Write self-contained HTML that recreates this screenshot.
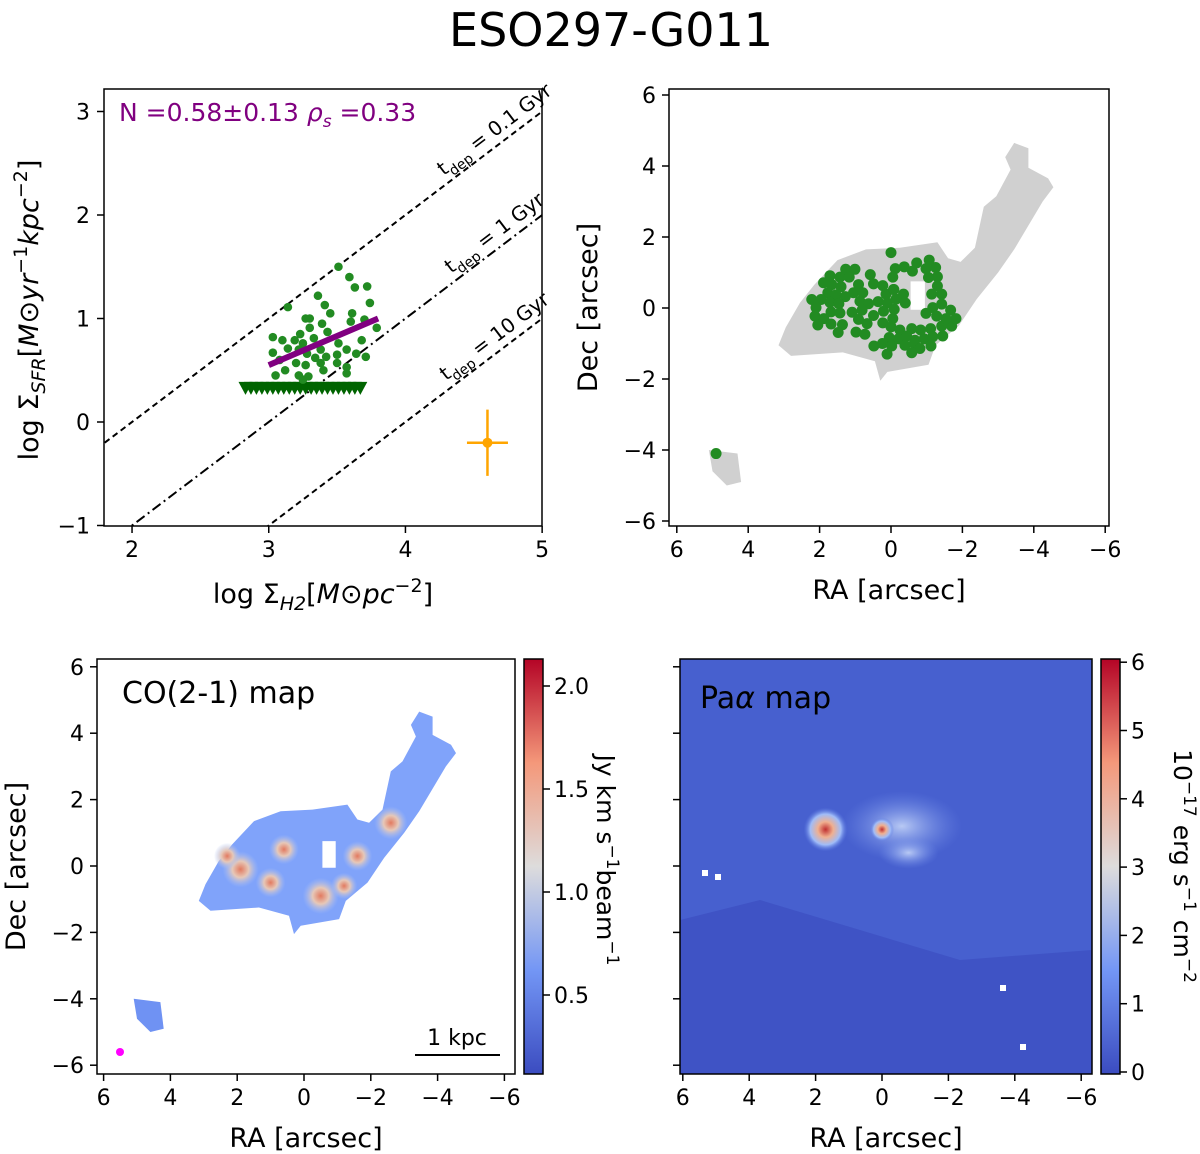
<!DOCTYPE html>
<html><head><meta charset="utf-8">
<style>
body{margin:0;background:#fff;}
svg{display:block;font-family:"DejaVu Sans","Liberation Sans",sans-serif;}
</style></head>
<body>
<svg id="fig" width="1200" height="1154" viewBox="0 0 1200 1154" xmlns="http://www.w3.org/2000/svg">
<defs>
<linearGradient id="cw" x1="0" y1="1" x2="0" y2="0">
<stop offset="0" stop-color="#3b4cc0"/><stop offset="0.25" stop-color="#7396f5"/>
<stop offset="0.5" stop-color="#dddcdc"/><stop offset="0.75" stop-color="#f4987a"/>
<stop offset="1" stop-color="#b40426"/></linearGradient>
<radialGradient id="hot"><stop offset="0" stop-color="#e27a60"/><stop offset="0.45" stop-color="#e6c8b8"/><stop offset="1" stop-color="#a8c0f6" stop-opacity="0"/></radialGradient>
<radialGradient id="pa"><stop offset="0" stop-color="#c03030"/><stop offset="0.35" stop-color="#f0b090"/><stop offset="0.7" stop-color="#a0bcf8"/><stop offset="1" stop-color="#5a78e0" stop-opacity="0"/></radialGradient>
<radialGradient id="pa2"><stop offset="0" stop-color="#b8c9f4"/><stop offset="1" stop-color="#6f8ce8" stop-opacity="0"/></radialGradient>
<clipPath id="c3"><rect x="97" y="659" width="418" height="415"/></clipPath>
<clipPath id="c4"><rect x="680" y="659" width="412" height="415"/></clipPath>
<clipPath id="c1"><rect x="104" y="89" width="438" height="437"/></clipPath>
</defs>
<text x="611" y="46" font-size="46" text-anchor="middle">ESO297-G011</text>
<g id="g1"></g><g id="g2"></g><g id="g3"></g><g id="g4"></g>
</svg>
<script>
const NS="http://www.w3.org/2000/svg";
function mk(p,t,a,txt){const e=document.createElementNS(NS,t);for(const k in a)e.setAttribute(k,a[k]);if(txt!==undefined)e.textContent=txt;p.appendChild(e);return e;}

// ---------- Panel 1 data ----------
const sfrX=[3.51,3.59,3.63,3.72,3.36,3.74,3.14,3.41,3.45,3.27,3.30,3.61,3.60,3.70,3.79,3.03,3.10,3.23,3.19,3.30,3.39,3.43,3.25,3.33,3.38,3.51,3.68,3.03,3.14,3.22,3.28,3.34,3.42,3.50,3.57,3.64,3.71,3.08,3.20,3.27,3.38,3.50,3.57,3.05,3.12,3.22,3.29,3.40,3.57,3.25];
const sfrY=[1.50,1.40,1.30,1.31,1.22,1.15,1.11,1.13,1.05,1.00,1.00,1.05,0.97,0.99,0.91,0.82,0.79,0.85,0.79,0.91,0.95,0.87,0.76,0.81,0.70,0.76,0.79,0.67,0.71,0.70,0.66,0.62,0.63,0.65,0.70,0.66,0.63,0.60,0.57,0.55,0.57,0.57,0.53,0.45,0.50,0.45,0.44,0.50,0.47,0.41];
const limX=[2.83,2.87,2.91,2.95,2.99,3.03,3.07,3.11,3.15,3.19,3.23,3.27,3.31,3.35,3.39,3.43,3.47,3.51,3.55,3.59,3.63,3.67];
const limY=0.33;
const fitX=[3.0,3.8]; const fitY=[0.55,1.0];
const errPt=[4.6,-0.2]; const errXY=[0.15,0.32];
const tdep=[{off:2,label:"0.1",dash:"6,4"},{off:3,label:"1",dash:"10,4,2,4"},{off:4,label:"10",dash:"6,4"}];
const p1xTicks=[2,3,4,5]; const p1yTicks=[-1,0,1,2,3];

const X1=v=>104.7+(v-1.8)*136.7, Y1=v=>422-v*103.5;
(function(){
const g=document.getElementById('g1');
const cl=mk(g,'g',{'clip-path':'url(#c1)'});
tdep.forEach(t=>{
 const l=mk(cl,'line',{x1:X1(1.8),y1:Y1(1.8-t.off),x2:X1(5),y2:Y1(5-t.off),stroke:'#000','stroke-width':2,'stroke-dasharray':t.dash});
 
 const cx=X1(4.68),cy=Y1(4.68-t.off)-10;
 const tx=mk(g,'text',{x:cx,y:cy,'font-size':20,'text-anchor':'middle',transform:`rotate(-37.1 ${cx} ${cy})`});
 tx.innerHTML=`t<tspan font-size="14" dy="6">dep</tspan><tspan dy="-6"> = ${t.label} Gyr</tspan>`;
 
});
limX.forEach(x=>{const px=X1(x),py=Y1(limY);
 const p=mk(cl,'path',{d:`M${px-7},${py-6}L${px+7},${py-6}L${px},${py+7}Z`,fill:'#006400'});
 });
sfrX.forEach((x,i)=>{const c=mk(cl,'circle',{cx:X1(x),cy:Y1(sfrY[i]),r:4.3,fill:'#228b22'});
 });
const f=mk(cl,'line',{x1:X1(fitX[0]),y1:Y1(fitY[0]),x2:X1(fitX[1]),y2:Y1(fitY[1]),stroke:'#800080','stroke-width':6});

const ex=X1(errPt[0]),ey=Y1(errPt[1]);
const eb=mk(g,'path',{d:`M${X1(errPt[0]-errXY[0])},${ey}H${X1(errPt[0]+errXY[0])}M${ex},${Y1(errPt[1]+errXY[1])}V${Y1(errPt[1]-errXY[1])}`,stroke:'#ffa500','stroke-width':2.5});

mk(g,'circle',{cx:ex,cy:ey,r:5,fill:'#ffa500'});
const fr=mk(g,'rect',{x:104,y:89,width:438,height:437,fill:'none',stroke:'#000','stroke-width':1.5});

p1xTicks.forEach(v=>{mk(g,'line',{x1:X1(v),x2:X1(v),y1:526,y2:533,stroke:'#000','stroke-width':1.5});
 const t=mk(g,'text',{x:X1(v),y:557,'font-size':22,'text-anchor':'middle'},String(v));});
p1yTicks.forEach(v=>{mk(g,'line',{x1:97,x2:104,y1:Y1(v),y2:Y1(v),stroke:'#000','stroke-width':1.5});
 const t=mk(g,'text',{x:90,y:Y1(v)+8,'font-size':22,'text-anchor':'end'},String(v).replace('-','−'));});
const n=mk(g,'text',{x:119,y:121,'font-size':25,fill:'#800080'});
n.innerHTML='N =0.58±0.13 <tspan font-style="italic">ρ</tspan><tspan font-size="17" dy="6" font-style="italic">s</tspan><tspan dy="-6"> =0.33</tspan>';

const xl=mk(g,'text',{x:323,y:603,'font-size':27,'text-anchor':'middle'});
xl.innerHTML='log Σ<tspan font-size="19" dy="7" font-style="italic">H2</tspan><tspan dy="-7">[</tspan><tspan font-style="italic">M</tspan>⊙<tspan font-style="italic">pc</tspan><tspan font-size="19" dy="-11">−2</tspan><tspan dy="11">]</tspan>';

const yl=mk(g,'text',{x:0,y:0,'font-size':27,'text-anchor':'middle',transform:'translate(38,310) rotate(-90)'});
yl.innerHTML='log Σ<tspan font-size="19" dy="7" font-style="italic">SFR</tspan><tspan dy="-7">[</tspan><tspan font-style="italic">M</tspan>⊙<tspan font-style="italic">yr</tspan><tspan font-size="19" dy="-11">−1</tspan><tspan dy="11" font-style="italic">kpc</tspan><tspan font-size="19" dy="-11">−2</tspan><tspan dy="11">]</tspan>';

})();

// ---------- Map data (RA, Dec in arcsec) ----------
const galRA=[3.15,2.95,2.55,2.15,1.5,0.7,-0.25,-1.3,-1.6,-1.95,-2.35,-2.6,-2.95,-3.35,-3.2,-3.45,-3.85,-3.85,-4.4,-4.55,-4.25,-3.45,-3.0,-2.4,-1.9,-1.25,-1.05,0.1,0.3,0.45,1.35,2.8];
const galDec=[-1.05,-0.55,0.15,0.65,1.35,1.65,1.7,1.85,1.4,1.3,1.7,2.85,3.15,3.9,4.25,4.65,4.5,3.95,3.65,3.4,3.0,1.65,1.0,0.25,-0.5,-1.05,-1.6,-1.8,-2.05,-1.5,-1.25,-1.35];
const holeRA=[-0.55,-0.95,-0.95,-0.55]; const holeDec=[0.75,0.75,-0.05,-0.05];
const blobRA=[5.1,4.3,4.2,4.6,5.0]; const blobDec=[-4.0,-4.1,-4.9,-5.0,-4.6];
const regRA=[0.0,1.27,1.01,1.71,1.43,1.17,0.58,1.89,1.66,1.40,0.91,0.49,0.23,1.77,1.54,1.28,1.05,0.79,0.14,-0.07,-0.35,2.22,1.96,1.71,1.46,0.87,0.63,0.36,0.10,-0.14,-0.40,2.10,1.68,1.43,1.09,0.81,0.49,0.21,-0.09,2.13,1.88,0.91,0.67,0.23,-0.05,2.05,1.68,1.36,0.98,0.73,1.48,0.00,-0.25,-0.58,-0.83,-1.11,-1.42,-1.70,-1.82,-1.67,-1.42,-1.42,-1.14,-1.30,-1.30,-1.25,-1.05,-0.98,-1.07,-0.72,-0.60,-0.37,-0.12,-0.05,-0.08,0.05,-0.21,-0.44,-0.67,-0.93,-1.17,-1.45,-0.98,-1.17,-1.28,-1.54,0.48,0.24,-0.02,-0.39,-0.65,-0.81,-1.12,0.11,-0.58,4.9];
const regDec=[1.56,1.09,1.09,0.91,0.87,0.87,0.94,0.71,0.66,0.60,0.66,0.68,0.63,0.43,0.37,0.32,0.43,0.43,0.39,0.52,0.39,0.24,0.24,0.16,0.12,0.19,0.12,0.18,0.14,0.25,0.14,0.01,-0.11,-0.14,-0.12,-0.06,-0.21,-0.09,-0.04,-0.23,-0.30,-0.32,-0.44,-0.42,-0.30,-0.48,-0.45,-0.47,-0.68,-0.74,-0.69,-0.53,-0.62,-0.58,-0.62,-0.58,-0.51,-0.51,-0.30,-0.06,0.11,0.39,0.39,0.62,0.88,1.14,0.86,1.11,1.35,1.27,1.04,1.16,1.11,0.87,0.52,-0.83,-0.87,-0.79,-0.91,-0.87,-0.81,-0.79,-0.15,0.01,-0.23,-0.30,-1.07,-1.00,-1.07,-1.05,-1.00,-1.14,-1.07,-1.30,-1.26,-4.1];
const mapTicks=[6,4,2,0,-2,-4,-6];
const coHotRA=[1.9,-0.5,0.6,-1.6,1.0,-2.6,-1.2,2.3]; const coHotDec=[-0.1,-0.9,0.5,0.3,-0.5,1.3,-0.6,0.3]; const coHotR=[0.55,0.55,0.45,0.45,0.45,0.5,0.4,0.4];
const paRA=[1.7,0.0]; const paDec=[1.1,1.1];
const coTicks=[0.5,1.0,1.5,2.0]; const paTicks=[0,1,2,3,4,5,6];

function poly(xs,ys,X,Y){return xs.map((v,i)=>(i?'L':'M')+X(v).toFixed(1)+','+Y(ys[i]).toFixed(1)).join('')+'Z';}
function mapAxes(g,x0,y0,w,h,X,Y,labelsY,name){
 const r=mk(g,'rect',{x:x0,y:y0,width:w,height:h,fill:'none',stroke:'#000','stroke-width':1.5});
 
 mapTicks.forEach(v=>{mk(g,'line',{x1:X(v),x2:X(v),y1:y0+h,y2:y0+h+7,stroke:'#000','stroke-width':1.5});
  const t=mk(g,'text',{x:X(v),y:y0+h+31,'font-size':22,'text-anchor':'middle'},String(v).replace('-','−'));
  
  mk(g,'line',{x1:x0-7,x2:x0,y1:Y(v),y2:Y(v),stroke:'#000','stroke-width':1.5});
  if(labelsY){const u=mk(g,'text',{x:x0-13,y:Y(v)+8,'font-size':22,'text-anchor':'end'},String(v).replace('-','−'));
  }});
 const xl=mk(g,'text',{x:x0+w/2,y:y0+h+73,'font-size':27,'text-anchor':'middle'},'RA [arcsec]');
 
 if(labelsY){const yl=mk(g,'text',{x:0,y:0,'font-size':27,'text-anchor':'middle',transform:`translate(${x0-72},${y0+h/2}) rotate(-90)`},'Dec [arcsec]');
 }
}

// ---------- Panel 2 ----------
(function(){
const g=document.getElementById('g2');
const X=v=>891-v*35.7, Y=v=>308-v*35.5;
const gal=mk(g,'path',{d:poly(galRA,galDec,X,Y),fill:'#d0d0d0'});

mk(g,'path',{d:poly(holeRA,holeDec,X,Y),fill:'#fff'});
mk(g,'path',{d:poly(blobRA,blobDec,X,Y),fill:'#d0d0d0'});
regRA.forEach((ra,i)=>{const c=mk(g,'circle',{cx:X(ra),cy:Y(regDec[i]),r:5.5,fill:'#228b22'});
 });
mapAxes(g,669,89,440,437,X,Y,true,'panel2');
})();

// ---------- Panel 3 ----------
(function(){
const g=document.getElementById('g3');
const X=v=>304-v*33.4, Y=v=>866-v*33.2;
const cl=mk(g,'g',{'clip-path':'url(#c3)'});
const gal=mk(cl,'path',{d:poly(galRA,galDec,X,Y),fill:'#80a3fa'});

mk(cl,'path',{d:poly(holeRA,holeDec,X,Y),fill:'#fff'});
mk(cl,'path',{d:poly(blobRA,blobDec,X,Y),fill:'#6f92f3'});
coHotRA.forEach((ra,i)=>{const c=mk(cl,'circle',{cx:X(ra),cy:Y(coHotDec[i]),r:coHotR[i]*33,fill:'url(#hot)'});
 });
mk(cl,'circle',{cx:120,cy:1052,r:4,fill:'#ff00ff'});
const t=mk(g,'text',{x:122,y:703,'font-size':30},'CO(2-1) map');
mk(g,'line',{x1:415,x2:500,y1:1055,y2:1055,stroke:'#000','stroke-width':2});
const sb=mk(g,'text',{x:457,y:1045,'font-size':22,'text-anchor':'middle'},'1 kpc');
mapAxes(g,97,659,418,415,X,Y,true,'panel3');
const cb=mk(g,'rect',{x:524,y:659,width:19,height:415,fill:'url(#cw)',stroke:'#000','stroke-width':1.5});

const CY=v=>892-(v-1.0)*206;
coTicks.forEach(v=>{mk(g,'line',{x1:543,x2:550,y1:CY(v),y2:CY(v),stroke:'#000','stroke-width':1.5});
 const u=mk(g,'text',{x:554,y:CY(v)+8,'font-size':22},v.toFixed(1));});
const cl2=mk(g,'text',{x:0,y:0,'font-size':25,'text-anchor':'middle',transform:'translate(597,860) rotate(90)'});
cl2.innerHTML='Jy km s<tspan font-size="17" dy="-10">−1</tspan><tspan dy="10">beam</tspan><tspan font-size="17" dy="-10">−1</tspan>';

})();

// ---------- Panel 4 ----------
(function(){
const g=document.getElementById('g4');
const X=v=>882-v*33.2, Y=v=>866-v*33.2;
const cl=mk(g,'g',{'clip-path':'url(#c4)'});
const bg=mk(cl,'rect',{x:680,y:659,width:412,height:415,fill:'#4760cf'});

mk(cl,'path',{d:'M680,920 L760,900 L860,930 L960,960 L1092,950 L1092,1074 L680,1074Z',fill:'#3f53c5'});
mk(cl,'ellipse',{cx:X(-0.6),cy:Y(1.2),rx:60,ry:35,fill:'url(#pa2)'});
mk(cl,'ellipse',{cx:X(-0.8),cy:Y(0.4),rx:30,ry:16,fill:'url(#pa2)'});
paRA.forEach((ra,i)=>{const c=mk(cl,'circle',{cx:X(ra),cy:Y(paDec[i]),r:i?12:22,fill:'url(#pa)'});
 });
[[705,873],[718,877],[1003,988],[1023,1047]].forEach(p=>mk(cl,'rect',{x:p[0]-3,y:p[1]-3,width:6,height:6,fill:'#fff'}));
const t=mk(g,'text',{x:700,y:708,'font-size':30});t.innerHTML='Pa<tspan font-style="italic">α</tspan> map';

mapAxes(g,680,659,412,415,X,Y,false,'panel4');
const cb=mk(g,'rect',{x:1101,y:659,width:19,height:415,fill:'url(#cw)',stroke:'#000','stroke-width':1.5});

const CY=v=>1072-v*68.3;
paTicks.forEach(v=>{mk(g,'line',{x1:1120,x2:1127,y1:CY(v),y2:CY(v),stroke:'#000','stroke-width':1.5});
 const u=mk(g,'text',{x:1131,y:CY(v)+8,'font-size':22},String(v));});
const cl2=mk(g,'text',{x:0,y:0,'font-size':25,'text-anchor':'middle',transform:'translate(1174,866) rotate(90)'});
cl2.innerHTML='10<tspan font-size="17" dy="-10">−17</tspan><tspan dy="10"> erg s</tspan><tspan font-size="17" dy="-10">−1</tspan><tspan dy="10"> cm</tspan><tspan font-size="17" dy="-10">−2</tspan>';

})();
</script>
</body></html>
